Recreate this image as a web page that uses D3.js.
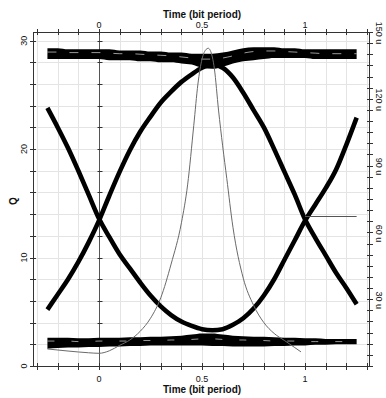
<!DOCTYPE html>
<html>
<head>
<meta charset="utf-8">
<script src="https://cdn.jsdelivr.net/npm/d3@7"></script>
<style>
    body { margin: 0; background: #fff; }
    svg { display: block; font-family: "Liberation Sans", Arial, sans-serif; }
    .grid line { stroke: #e4e4e4; stroke-width: 1; }
    .tick-marks line { stroke: #333; stroke-width: 1; }
    .lbl { font-size: 9px; fill: #111; }
    .title { font-size: 10px; font-weight: bold; fill: #111; }
</style>
</head>
<body>
<svg id="chart"></svg>
<script>
// time axis in bit periods, samples
const timeGrid = [-0.25, -0.2, -0.15, -0.1, -0.05, 0, 0.05, 0.1, 0.15, 0.2, 0.25, 0.3, 0.35, 0.4, 0.45, 0.5,
    0.55, 0.6, 0.65, 0.7, 0.75, 0.8, 0.85, 0.9, 0.95, 1, 1.05, 1.1, 1.15, 1.2, 1.25];

// "010" trace (rises at 0, falls at 1)
const pulseOne = [5.2, 6.6, 8.0, 9.6, 11.4, 13.4, 15.7, 17.9, 19.9, 21.6, 23.0, 24.3, 25.3, 26.2, 26.9, 27.5,
    27.8, 27.5, 26.6, 25.2, 23.6, 22.0, 20.0, 17.9, 15.8, 13.5, 11.8, 10.2, 8.6, 7.2, 5.7];
// "101" trace (falls at 0, rises at 1)
const pulseZero = [23.8, 22.0, 20.1, 18.0, 15.8, 13.6, 11.9, 10.3, 9.0, 7.7, 6.5, 5.5, 4.7, 4.1, 3.7, 3.4,
    3.3, 3.4, 3.8, 4.4, 5.3, 6.5, 8.0, 9.8, 11.6, 13.4, 14.9, 16.4, 18.1, 20.4, 22.9];

// the '1' and '0' rails (upper / lower edge of the band of traces)
const railOneTop = [29.3, 29.3, 29.2, 29.2, 29.2, 29.2, 29.2, 29.1, 29.1, 29.1, 29.0, 29.0, 28.9, 28.9, 28.8, 28.8,
    28.8, 28.9, 29.1, 29.3, 29.4, 29.4, 29.4, 29.3, 29.3, 29.2, 29.2, 29.2, 29.2, 29.2, 29.2];
const railOneBottom = [28.3, 28.3, 28.3, 28.3, 28.3, 28.3, 28.2, 28.2, 28.2, 28.1, 28.1, 28.0, 28.0, 27.9, 27.8, 27.5,
    27.4, 27.6, 27.9, 28.1, 28.2, 28.3, 28.4, 28.4, 28.4, 28.4, 28.3, 28.3, 28.3, 28.3, 28.3];
const railZeroTop = [2.6, 2.6, 2.6, 2.55, 2.55, 2.6, 2.6, 2.6, 2.65, 2.65, 2.7, 2.7, 2.75, 2.8, 2.9, 3.0,
    3.0, 2.9, 2.8, 2.75, 2.7, 2.7, 2.65, 2.6, 2.6, 2.55, 2.55, 2.5, 2.5, 2.5, 2.5];
const railZeroBottom = [1.6, 1.65, 1.7, 1.7, 1.75, 1.75, 1.8, 1.8, 1.85, 1.85, 1.9, 1.9, 1.9, 1.9, 1.9, 1.9,
    1.85, 1.85, 1.8, 1.8, 1.8, 1.8, 1.85, 1.85, 1.9, 1.9, 1.95, 1.95, 2.0, 2.0, 2.0];
// a gap seen between traces inside each rail
const railOneGap = [28.95, 28.95, 28.9, 28.9, 28.9, 28.9, 28.85, 28.8, 28.8, 28.75, 28.7, 28.65, 28.6, 28.5, 28.4, 28.3,
    28.3, 28.4, 28.6, 28.85, 29.0, 29.05, 29.05, 29.0, 28.95, 28.9, 28.85, 28.8, 28.8, 28.8, 28.8];
const railZeroGap = [2.3, 2.3, 2.3, 2.25, 2.25, 2.3, 2.3, 2.3, 2.3, 2.35, 2.35, 2.35, 2.4, 2.4, 2.45, 2.5,
    2.5, 2.45, 2.4, 2.4, 2.35, 2.35, 2.3, 2.3, 2.3, 2.25, 2.25, 2.25, 2.25, 2.25, 2.25];

// Q factor vs sampling time (thin grey curve)
const qTime = [-0.25, -0.15, -0.05, 0, 0.05, 0.1, 0.15, 0.2, 0.25, 0.3, 0.35, 0.4, 0.43, 0.46, 0.48, 0.5,
    0.52, 0.53, 0.54, 0.56, 0.58, 0.6, 0.62, 0.65, 0.7, 0.75, 0.8, 0.85, 0.9, 0.95, 0.98];
const qFactor = [1.57, 1.38, 1.22, 1.17, 1.4, 1.9, 2.4, 3.2, 4.4, 6.3, 9.4, 13.2, 16.7, 22.2, 26.0, 28.3,
    29.2, 29.3, 29.1, 27.4, 23.6, 20.3, 17.3, 12.8, 8.1, 5.6, 4.0, 3.0, 2.35, 1.7, 1.3];

// decision threshold marker
const thresholdTime = [1.0, 1.25];
const thresholdQ = [13.85, 13.85];

// tick labels
const timeLabels = [0, 0.5, 1];
const qLabels = [0, 10, 20, 30];
const ampLabels = [30, 60, 90, 120, 150];

class EyeDiagram {
    constructor(target) {
        this.target = target;
        this.svgWidth = 386;
        this.svgHeight = 398;
        this.margin = { top: 32, bottom: 32, left: 33, right: 17 };
    }
    render() {
        const m = this.margin;
        const svg = d3.select(this.target)
            .attr('width', this.svgWidth)
            .attr('height', this.svgHeight);
        const x = d3.scaleLinear().domain([-0.32, 1.31]).range([m.left, this.svgWidth - m.right]);
        const q = d3.scaleLinear().domain([0, 30.8]).range([this.svgHeight - m.bottom, m.top]);
        const amp = d3.scaleLinear().domain([0, 150]).range([this.svgHeight - m.bottom, m.top]);
        const px = v => Math.round(v) + 0.5;
        const x0 = m.left, x1 = this.svgWidth - m.right;
        const y0 = this.svgHeight - m.bottom, y1 = m.top;

        // grid
        const grid = svg.append('g').attr('class', 'grid');
        grid.selectAll('.gx').data(x.ticks(16)).enter().append('line')
            .attr('x1', d => px(x(d))).attr('x2', d => px(x(d)))
            .attr('y1', y1).attr('y2', y0);
        grid.selectAll('.gy').data(q.ticks(15)).enter().append('line')
            .attr('x1', x0).attr('x2', x1)
            .attr('y1', d => px(q(d))).attr('y2', d => px(q(d)));

        // zero time line with its own small ticks
        svg.append('line')
            .attr('x1', px(x(0))).attr('x2', px(x(0)))
            .attr('y1', y1).attr('y2', y0)
            .attr('stroke', '#555');
        svg.append('g').attr('class', 'tick-marks')
            .selectAll('line').data(q.ticks(15)).enter().append('line')
            .attr('x1', px(x(0)) - 2).attr('x2', px(x(0)) + 3)
            .attr('y1', d => px(q(d))).attr('y2', d => px(q(d)));

        // eye traces
        const line = d3.line().curve(d3.curveMonotoneX);
        const band = d3.area().curve(d3.curveMonotoneX)
            .x(d => d[0]).y0(d => d[1]).y1(d => d[2]);
        const railOne = timeGrid.map((t, i) => [x(t), q(railOneBottom[i]), q(railOneTop[i])]);
        const railZero = timeGrid.map((t, i) => [x(t), q(railZeroBottom[i]), q(railZeroTop[i])]);
        svg.append('path').attr('d', band(railOne)).attr('fill', '#000');
        svg.append('path').attr('d', band(railZero)).attr('fill', '#000');

        // broken white gaps between overlapping traces
        [[railOneGap, '9,13'], [railZeroGap, '7,17']].forEach(([gap, dash]) => {
            svg.append('path')
                .attr('d', line(timeGrid.map((t, i) => [x(t), q(gap[i])])))
                .attr('fill', 'none')
                .attr('stroke', '#fff')
                .attr('stroke-opacity', 0.75)
                .attr('stroke-width', 0.8)
                .attr('stroke-dasharray', dash);
        });

        [pulseOne, pulseZero].forEach(series => {
            svg.append('path')
                .attr('d', line(timeGrid.map((t, i) => [x(t), q(series[i])])))
                .attr('fill', 'none')
                .attr('stroke', '#000')
                .attr('stroke-width', 4.6);
        });

        // Q curve and threshold
        svg.append('path')
            .attr('d', line(qTime.map((t, i) => [x(t), q(qFactor[i])])))
            .attr('fill', 'none').attr('stroke', '#6a6a6a').attr('stroke-width', 1);
        svg.append('path')
            .attr('d', d3.line()(thresholdTime.map((t, i) => [x(t), px(q(thresholdQ[i]))])))
            .attr('fill', 'none').attr('stroke', '#555').attr('stroke-width', 1);

        // frame
        svg.append('rect')
            .attr('x', x0 + 0.5).attr('y', y1 + 0.5)
            .attr('width', x1 - x0).attr('height', y0 - y1)
            .attr('fill', 'none').attr('stroke', '#333');

        // ticks on all four sides
        const ticks = svg.append('g').attr('class', 'tick-marks');
        ticks.selectAll('.tb').data(x.ticks(16)).enter().append('line')
            .attr('x1', d => px(x(d))).attr('x2', d => px(x(d)))
            .attr('y1', y0 - 3).attr('y2', y0 + 4);
        ticks.selectAll('.tt').data(x.ticks(16)).enter().append('line')
            .attr('x1', d => px(x(d))).attr('x2', d => px(x(d)))
            .attr('y1', y1 - 3).attr('y2', y1 + 3);
        ticks.selectAll('.tl').data(q.ticks(15)).enter().append('line')
            .attr('x1', x0 - 3).attr('x2', x0 + 3)
            .attr('y1', d => px(q(d))).attr('y2', d => px(q(d)));
        ticks.selectAll('.tr').data(amp.ticks(30)).enter().append('line')
            .attr('x1', x1 - 2).attr('x2', x1 + 4)
            .attr('y1', d => px(amp(d))).attr('y2', d => px(amp(d)));

        // labels
        svg.selectAll('.lt').data(timeLabels).enter().append('text')
            .attr('class', 'lbl').attr('text-anchor', 'middle')
            .attr('x', d => x(d)).attr('y', y1 - 4).text(d => d);
        svg.selectAll('.lb').data(timeLabels).enter().append('text')
            .attr('class', 'lbl').attr('text-anchor', 'middle')
            .attr('x', d => x(d)).attr('y', y0 + 16).text(d => d);
        svg.selectAll('.ll').data(qLabels).enter().append('text')
            .attr('class', 'lbl').attr('text-anchor', 'middle')
            .attr('transform', d => 'translate(27,' + q(d) + ') rotate(-90)')
            .text(d => d);
        svg.selectAll('.lr').data(ampLabels).enter().append('text')
            .attr('class', 'lbl').attr('text-anchor', 'middle')
            .attr('transform', d => 'translate(376,' + (amp(d) + 1) + ') rotate(90)')
            .text(d => d + ' u');

        svg.append('text').attr('class', 'title').attr('text-anchor', 'middle')
            .attr('x', x(0.5)).attr('y', 18).text('Time (bit period)');
        svg.append('text').attr('class', 'title').attr('text-anchor', 'middle')
            .attr('x', x(0.5)).attr('y', 393).text('Time (bit period)');
        svg.append('text').attr('class', 'title').attr('text-anchor', 'middle')
            .attr('transform', 'translate(17,' + q(15.2) + ') rotate(-90)')
            .text('Q');
    }
}

new EyeDiagram(document.getElementById('chart')).render();
</script>
</body>
</html>
